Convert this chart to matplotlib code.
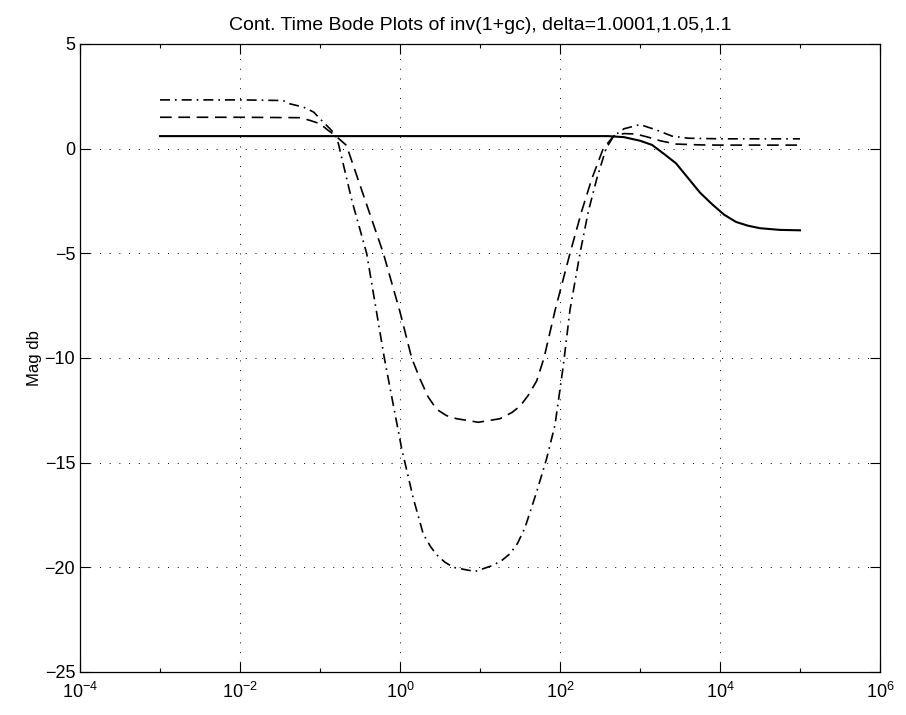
import numpy as np
import matplotlib
matplotlib.use("Agg")
import matplotlib.pyplot as plt
from matplotlib.ticker import NullFormatter

# frequency as log10(w), magnitudes in dB
sol_logw = [-3.0, -2.0, -1.0, 0.0, 1.0, 2.0, 2.6, 2.8, 3.0, 3.15, 3.3, 3.45,
            3.6, 3.75, 3.9, 4.05, 4.2, 4.35, 4.5, 4.75, 5.0]
sol_db = [0.6, 0.6, 0.6, 0.6, 0.6, 0.6, 0.6, 0.55, 0.38, 0.18, -0.25, -0.7,
          -1.4, -2.1, -2.65, -3.15, -3.5, -3.68, -3.8, -3.88, -3.9]

dash_logw = [-3.0, -2.0, -1.25, -1.125, -1.0, -0.9, -0.81, -0.67, -0.45, -0.208,
             0.0, 0.146, 0.25, 0.35, 0.458, 0.58, 0.708, 0.98, 1.25, 1.4,
             1.5, 1.6, 1.708, 1.8, 1.94, 2.125, 2.27, 2.396, 2.54, 2.67,
             2.8, 2.95, 3.1, 3.25, 3.45, 3.75, 4.0, 4.5, 5.0]
dash_db = [1.5, 1.5, 1.48, 1.35, 1.19, 0.88, 0.63, 0.16, -2.3, -5.0,
           -7.8, -10.0, -11.0, -11.85, -12.45, -12.75, -12.9, -13.07, -12.9, -12.6,
           -12.3, -11.8, -11.1, -10.0, -7.7, -5.0, -3.0, -1.46, 0.0, 0.6,
           0.72, 0.7, 0.55, 0.38, 0.22, 0.18, 0.17, 0.17, 0.17]

dd_logw = [-3.0, -2.0, -1.46, -1.375, -1.21, -1.08, -0.96, -0.875, -0.81, -0.77,
           -0.6, -0.417, -0.196, 0.021, 0.166, 0.29, 0.38, 0.458, 0.56, 0.666,
           0.9375, 1.166, 1.28, 1.375, 1.47, 1.5625, 1.708, 1.833, 1.9375, 2.04,
           2.125, 2.25, 2.354, 2.458, 2.575, 2.67, 2.8, 3.0, 3.2, 3.4,
           3.6, 4.0, 4.5, 5.0]
dd_db = [2.33, 2.33, 2.3, 2.14, 1.99, 1.75, 1.27, 0.95, 0.67, 0.24,
         -2.5, -5.0, -10.0, -14.33, -16.7, -18.4, -19.0, -19.4, -19.75, -20.0,
         -20.2, -19.9, -19.65, -19.35, -18.85, -18.1, -16.4, -14.8, -13.2, -10.4,
         -7.7, -5.0, -3.0, -1.46, 0.0, 0.6, 0.95, 1.15, 0.9, 0.6,
         0.5, 0.47, 0.47, 0.47]

x_major = [1e-4, 1e-2, 1e0, 1e2, 1e4, 1e6]
x_minor = [1e-3, 1e-1, 1e1, 1e3, 1e5]
y_ticks = [-25, -20, -15, -10, -5, 0, 5]

plt.rcParams["font.family"] = ["Liberation Sans", "DejaVu Sans"]

fig = plt.figure(figsize=(9.06, 7.15), dpi=100)
ax = fig.add_axes([80 / 906, 1 - 672 / 715, 800 / 906, 628 / 715])

ax.semilogx(10 ** np.array(sol_logw), sol_db, color="black", lw=1.5, linestyle="-")
ax.semilogx(10 ** np.array(dash_logw), dash_db, color="black", lw=1.2,
            linestyle=(0, (7, 4)))
ax.semilogx(10 ** np.array(dd_logw), dd_db, color="black", lw=1.2,
            linestyle=(0, (6, 3, 1, 3)))

ax.set_xlim(1e-4, 1e6)
ax.set_ylim(-25, 5)
ax.set_xticks(x_major)
ax.set_xticks(x_minor, minor=True)
ax.xaxis.set_minor_formatter(NullFormatter())
ax.set_yticks(y_ticks)
ax.grid(False, which="minor")
ax.grid(True, which="major", color="black", linestyle=(0, (1, 9)), linewidth=0.7)

ax.tick_params(which="both", direction="in", top=True, right=True, labelsize=13)
ax.tick_params(axis="x", which="major", pad=7)
ax.tick_params(which="major", length=7, width=0.8)
ax.tick_params(which="minor", length=3, width=0.8)
for s in ax.spines.values():
    s.set_linewidth(0.9)

ax.set_ylabel("Mag db", fontsize=12, labelpad=2)
ax.set_title("Cont. Time Bode Plots of inv(1+gc), delta=1.0001,1.05,1.1", fontsize=14, pad=10)

fig.savefig("out.png", dpi=100)
plt.close(fig)
